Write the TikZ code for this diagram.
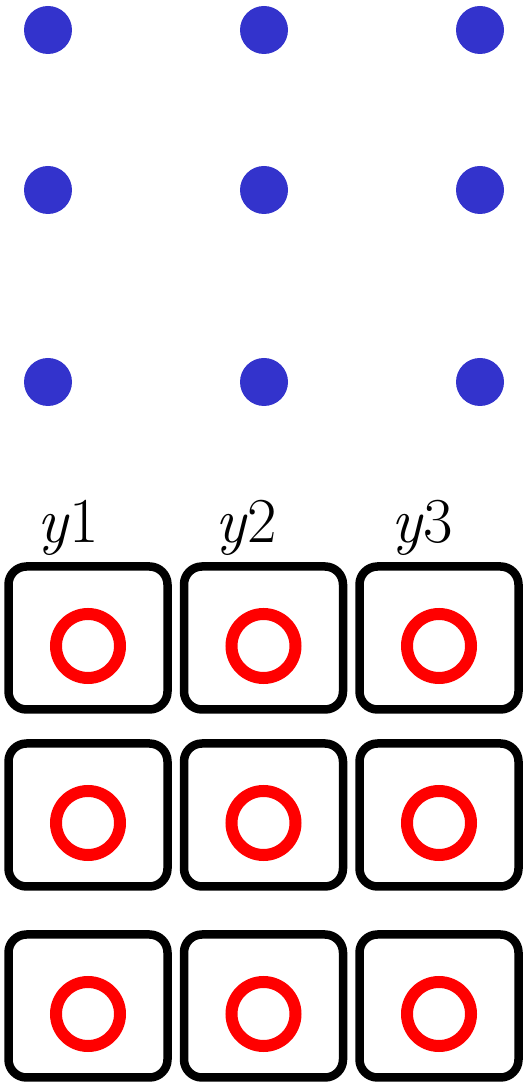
\documentclass[tikz,border=0pt]{standalone}
\usetikzlibrary{positioning,calc}
\definecolor{DotBlue}{HTML}{3333CC}
\definecolor{RingRed}{HTML}{FF0000}

\begin{document}
\begin{tikzpicture}[
  x=1pt,y=1pt,
  dot/.style={circle,fill=DotBlue,minimum size=48pt,inner sep=0pt},
  cell/.style={rounded corners=18pt,draw=black,line width=8.5pt,minimum width=159pt,minimum height=143pt,inner sep=0pt},
  ring/.style={circle,draw=RingRed,line width=12pt,minimum size=64pt,inner sep=0pt},
  ylab/.style={anchor=base,inner sep=0pt,font=\fontsize{64}{64}\selectfont}
]
\useasboundingbox (0,0) rectangle (523,1082);
% dots
\foreach \i/\y in {1/1052,2/892,3/700}
  \foreach \j/\x in {1/48,2/264,3/480}
    \node[dot] (d-\i-\j) at (\x,\y) {};
% boxes with rings
\foreach \i/\y in {1/444,2/267,3/76}
  \foreach \j/\x in {1/88,2/263.5,3/439}{
    \node[cell] (b-\i-\j) at (\x,\y) {};
    \node[ring] (r-\i-\j) at ($(b-\i-\j.center)+(0,-8)$) {};
  }
% labels
\foreach \j/\x in {1/68,2/246,3/422}
  \node[ylab] (y\j) at (\x,539) {\textit{y}\j};
\end{tikzpicture}
\end{document}
